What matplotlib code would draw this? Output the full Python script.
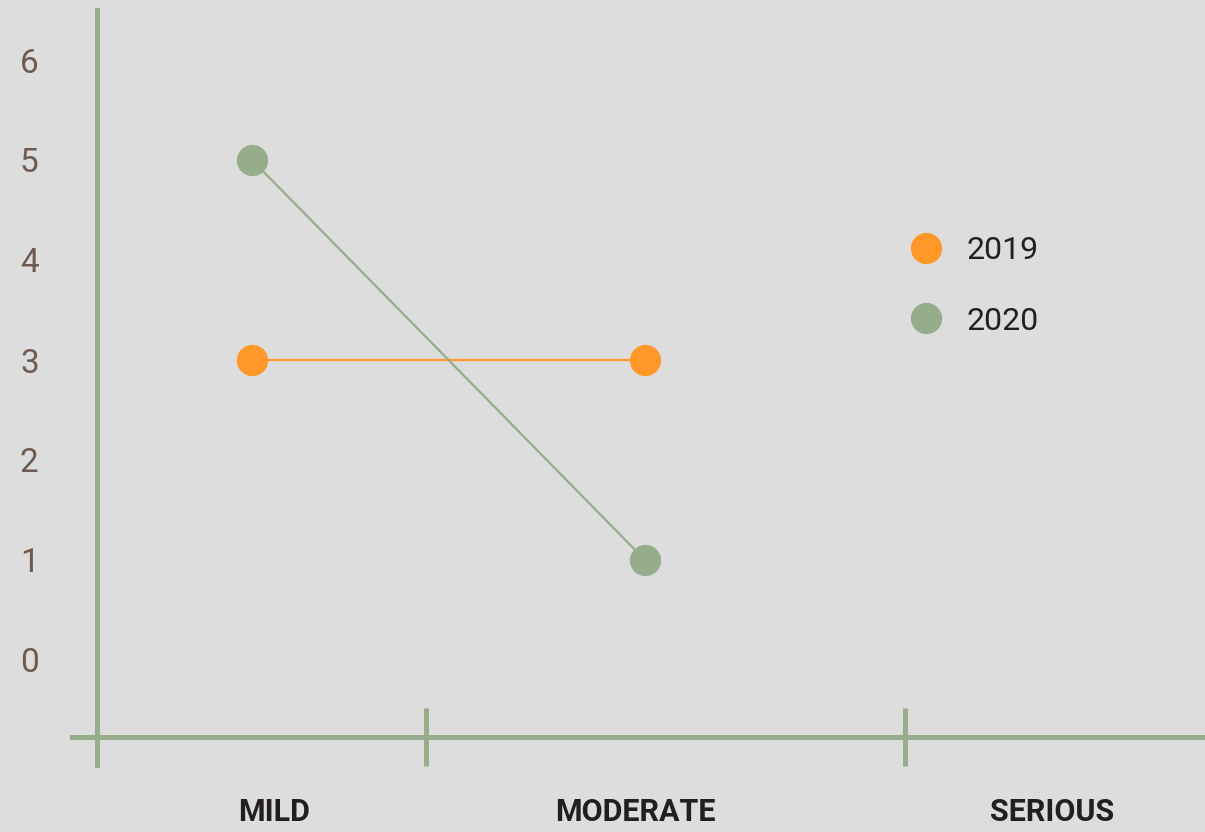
import matplotlib
matplotlib.use("Agg")
import matplotlib.pyplot as plt
from matplotlib.lines import Line2D

categories = ["MILD", "MODERATE", "SERIOUS"]
series_names = ["2019", "2020"]
values_2019 = [3, 3]
values_2020 = [5, 1]
y_ticks = [0, 1, 2, 3, 4, 5, 6]

orange = "#ff9729"
green = "#95ad8a"
paper = "#dcdddc"

plt.rcParams["font.family"] = ["Roboto", "DejaVu Sans"]

fig = plt.figure(figsize=(12.05, 8.32), dpi=100)
fig.patch.set_facecolor(paper)
ax = fig.add_axes([0, 0, 1, 1])
ax.set_facecolor(paper)

# pixel layout: category 0 at x=252px, 393px per category; y=0 at 660px from top, 100px per unit
ax.set_xlim(-252 / 393, (1205 - 252) / 393)
ax.set_ylim(-1.72, 6.6)

x_idx = list(range(len(values_2019)))
ax.plot(x_idx, values_2019, color=orange, lw=1.6, marker="o", ms=21.5,
        mec=orange, mfc=orange, zorder=3)
ax.plot(x_idx, values_2020, color=green, lw=1.6, marker="o", ms=21.5,
        mec=green, mfc=green, zorder=3)

for s in ["top", "right"]:
    ax.spines[s].set_visible(False)
ax.spines["left"].set_position(("data", (97 - 252) / 393))
ax.spines["left"].set_bounds(-1.05, 6.5)
ax.spines["bottom"].set_position(("data", -0.77))
ax.spines["bottom"].set_bounds((72 - 252) / 393, (1205 - 252) / 393)
for s in ["left", "bottom"]:
    ax.spines[s].set_color(green)
    ax.spines[s].set_linewidth(3.6)

ax.set_yticks(y_ticks)
ax.set_yticklabels([str(v) for v in y_ticks])
ax.tick_params(axis="y", length=0, pad=42, labelsize=24, labelcolor="#6e5a4f")

label_pos = [0.055, 0.975, 2.036]
ax.set_xticks(label_pos)
ax.set_xticklabels(categories, fontweight="bold")
ax.tick_params(axis="x", which="major", length=0, pad=43, labelsize=22,
               labelcolor="#231f20")
ax.set_xticks([(426 - 252) / 393, (905 - 252) / 393], minor=True)
ax.tick_params(axis="x", which="minor", direction="inout", length=42,
               width=3.6, color=green)

handles = [Line2D([], [], ls="none", marker="o", ms=21.5, color=c)
           for c in [orange, green]]
leg = ax.legend(handles, series_names, loc="upper left",
                bbox_to_anchor=(909 / 1205, 1 - 236 / 832), frameon=False,
                fontsize=23, labelcolor="#231f20", handlelength=1.05,
                handletextpad=0.75, labelspacing=1.3, borderpad=0, borderaxespad=0)

fig.savefig("out.png", dpi=100, facecolor=paper)
